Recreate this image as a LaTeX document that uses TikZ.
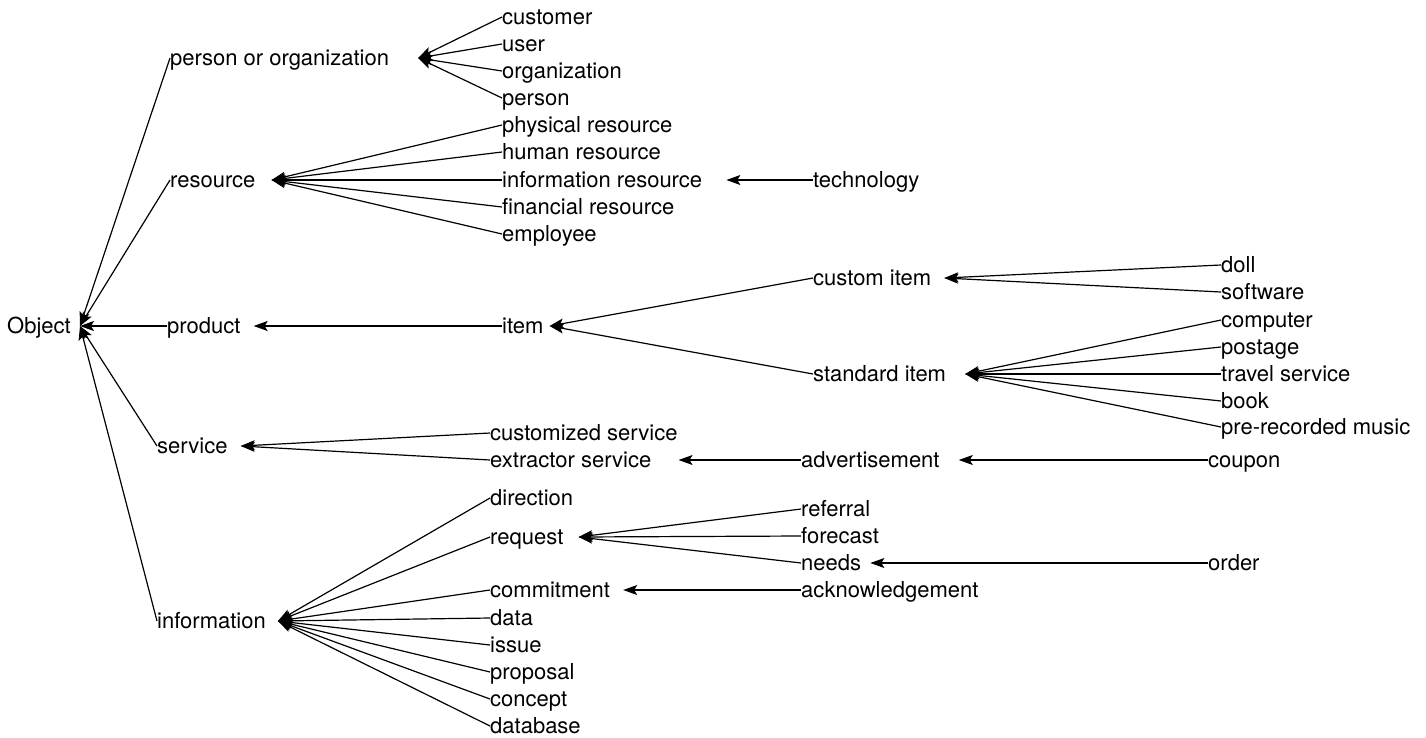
\documentclass[tikz,border=0pt]{standalone}
\usepackage{fontspec}
\setmainfont{TeX Gyre Heros}
\usetikzlibrary{arrows.meta}

\begin{document}
\begin{tikzpicture}[x=1pt,y=-1pt,
    every node/.style={anchor=west,inner sep=0pt,font=\fontsize{22}{26}\selectfont,
      text height=16pt,text depth=1pt},
    link/.style={line width=1.2pt,-{Stealth[length=14pt,width=10pt,inset=3pt]}}]
  \useasboundingbox (0,0) rectangle (1426,737);

  % top level
  \node (obj) at (7,326) {Object};
  \node (poo) at (170,58) {person or organization};
  \node (res) at (170,180) {resource};
  \node (prod) at (167,326) {product};
  \node (serv) at (157,446) {service};
  \node (info) at (157,621) {information};

  % person or organization
  \node (cust) at (502,17) {customer};
  \node (user) at (502,44) {user};
  \node (org) at (502,71) {organization};
  \node (pers) at (502,98) {person};

  % resource
  \node (phys) at (502,125) {physical resource};
  \node (hum) at (502,152) {human resource};
  \node (infres) at (502,180) {information resource};
  \node (fin) at (502,207) {financial resource};
  \node (empl) at (502,234) {employee};
  \node (tech) at (813,180) {technology};

  % product
  \node (item) at (502,326) {item};
  \node (custit) at (813,278) {custom item};
  \node (stdit) at (813,374) {standard item};
  \node (doll) at (1221,265) {doll};
  \node (soft) at (1221,292) {software};
  \node (comp) at (1221,320) {computer};
  \node (post) at (1221,347) {postage};
  \node (trav) at (1221,374) {travel service};
  \node (book) at (1221,401) {book};
  \node (music) at (1221,427) {pre-recorded music};

  % service
  \node (custserv) at (490,433) {customized service};
  \node (extr) at (490,460) {extractor service};
  \node (adv) at (801,460) {advertisement};
  \node (coupon) at (1208,460) {coupon};

  % information
  \node (dir) at (490,498) {direction};
  \node (req) at (490,537) {request};
  \node (commit) at (490,590) {commitment};
  \node (data) at (490,618) {data};
  \node (issue) at (490,645) {issue};
  \node (prop) at (490,672) {proposal};
  \node (conc) at (490,699) {concept};
  \node (dbase) at (490,726) {database};
  \node (refl) at (801,509) {referral};
  \node (fcst) at (801,536) {forecast};
  \node (needs) at (801,563) {needs};
  \node (ack) at (801,590) {acknowledgement};
  \node (order) at (1208,563) {order};

  % links
  \foreach \c in {poo,res,prod,serv,info}
    \draw[link] (\c.west) -- ([xshift=9pt]obj.east);
  \foreach \c in {cust,user,org,pers}
    \draw[link] (\c.west) -- ([xshift=29pt]poo.east);
  \foreach \c in {phys,hum,infres,fin,empl}
    \draw[link] (\c.west) -- ([xshift=16pt]res.east);
  \draw[link] (tech.west) -- ([xshift=24pt]infres.east);
  \draw[link] (item.west) -- ([xshift=13pt]prod.east);
  \foreach \c in {custit,stdit}
    \draw[link] (\c.west) -- ([xshift=6pt]item.east);
  \foreach \c in {doll,soft}
    \draw[link] (\c.west) -- ([xshift=13pt]custit.east);
  \foreach \c in {comp,post,trav,book,music}
    \draw[link] (\c.west) -- ([xshift=19pt]stdit.east);
  \foreach \c in {custserv,extr}
    \draw[link] (\c.west) -- ([xshift=13pt]serv.east);
  \draw[link] (adv.west) -- ([xshift=27pt]extr.east);
  \draw[link] (coupon.west) -- ([xshift=19pt]adv.east);
  \foreach \c in {dir,req,commit,data,issue,prop,conc,dbase}
    \draw[link] (\c.west) -- ([xshift=12pt]info.east);
  \foreach \c in {refl,fcst,needs}
    \draw[link] (\c.west) -- ([xshift=15pt]req.east);
  \draw[link] (order.west) -- ([xshift=9pt]needs.east);
  \draw[link] (ack.west) -- ([xshift=13pt]commit.east);
\end{tikzpicture}
\end{document}
